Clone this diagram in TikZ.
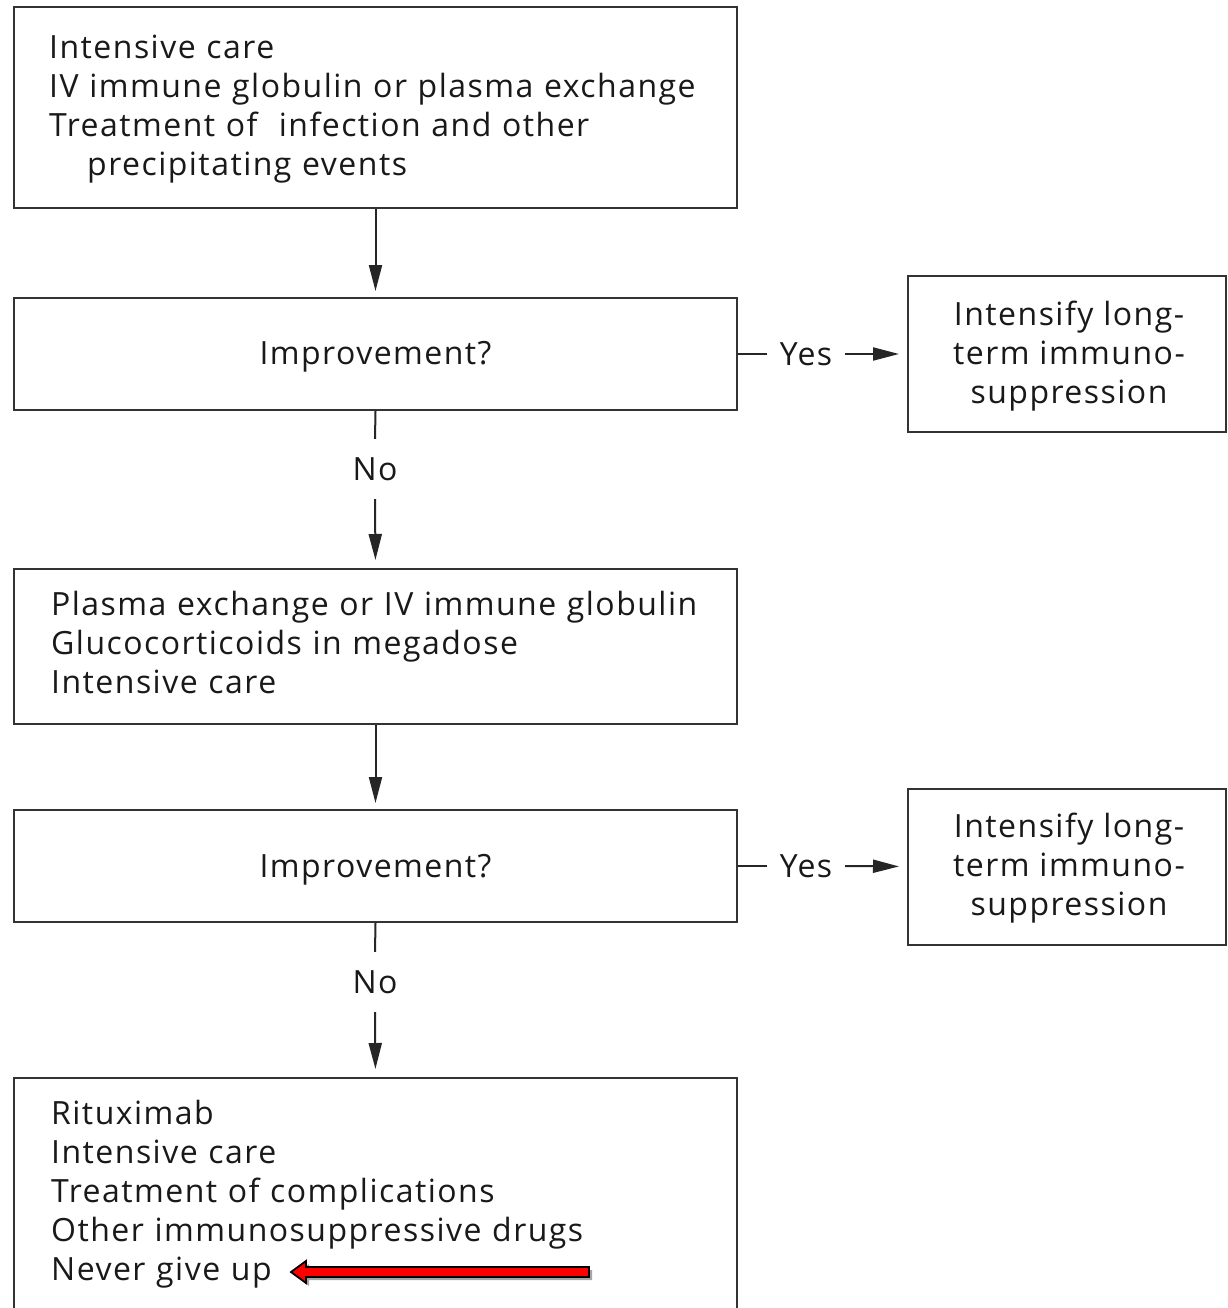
\documentclass[tikz,border=0pt]{standalone}
\usepackage{fontspec}
\setmainfont{Open Sans}[LetterSpace=4.6]
\usetikzlibrary{arrows.meta,shadows}
\begin{document}
\begin{tikzpicture}[x=1pt,y=-1pt,
  fnt/.style={font=\fontsize{32}{39}\selectfont, text=black!90},
  box/.style={draw=black!80, line width=2pt, inner sep=0pt, minimum width=723pt},
  rbox/.style={draw=black!80, line width=2pt, inner sep=0pt, minimum width=318pt, minimum height=156pt},
  ltxt/.style={fnt, anchor=north west, inner sep=0pt, align=left, text width=680pt},
  ctxt/.style={fnt, anchor=north, inner sep=0pt, align=center},
  conn/.style={draw=black!85, line width=2pt},
  arr/.style={conn, -{Triangle[length=26pt,width=13pt]}, shorten >=6pt},
  lbl/.style={fnt, inner sep=0pt}
]
\useasboundingbox (0,0) rectangle (1227,1308);
\clip (0,0) rectangle (1227,1308);
\fill[white] (0,0) rectangle (1227,1308);

% main column boxes
\node[box, minimum height=201pt] (b1) at (375.5,107.5) {};
\node[ltxt] (t1) at (49,30.7) {\strut Intensive care\\
IV immune globulin or plasma exchange\\
Treatment of\ \ infection and other\\
\hspace*{38pt}precipitating events};

\node[box, minimum height=112pt] (b2) at (375.5,354) {};
\node[lbl, anchor=base] (t2) at (375.5,364) {Improvement?};

\node[box, minimum height=155pt] (b3) at (375.5,646.5) {};
\node[ltxt] (t3) at (51,587.7) {\strut Plasma exchange or IV immune globulin\\
Glucocorticoids in megadose\\
Intensive care};

\node[box, minimum height=112pt] (b4) at (375.5,866) {};
\node[lbl, anchor=base] (t4) at (375.5,877) {Improvement?};

\node[box, minimum height=252pt] (b5) at (375.5,1204) {};
\node[ltxt] (t5) at (51,1096.7) {\strut Rituximab\\
Intensive care\\
Treatment of complications\\
Other immunosuppressive drugs\\
Never give up};

% right boxes
\node[rbox] (r1) at (1067,354) {};
\node[ctxt] (s1) at (1069,297.7) {\strut Intensify long-\\term immuno-\\suppression};
\node[rbox] (r2) at (1067,866.5) {};
\node[ctxt] (s2) at (1069,809.7) {\strut Intensify long-\\term immuno-\\suppression};

% labels
\node[lbl, minimum width=78pt] (y1) at (806,354) {Yes};
\node[lbl, minimum width=78pt] (y2) at (806,866) {Yes};
\node[lbl, minimum height=60pt] (n1) at (375,469) {No};
\node[lbl, minimum height=60pt] (n2) at (375,982) {No};

% connectors
\draw[arr] (b1.south) -- (b2.north);
\draw[conn] (b2.east) -- (y1.west);
\draw[arr, shorten >=8pt] (y1.east) -- (r1.west);
\draw[conn] (b2.south) -- (n1.north);
\draw[arr, shorten >=8pt] (n1.south) -- (b3.north);
\draw[arr] (b3.south) -- (b4.north);
\draw[conn] (b4.east) -- (y2.west);
\draw[arr, shorten >=8pt] (y2.east) -- (r2.west);
\draw[conn] (b4.south) -- (n2.north);
\draw[arr, shorten >=8pt] (n2.south) -- (b5.north);

% red pointer arrow
\filldraw[fill=red, draw=black, line width=1.8pt, line join=miter,
  drop shadow={shadow xshift=3pt, shadow yshift=-3pt, fill=black, opacity=0.35}]
  (291,1272) -- (306,1261) -- (306,1267) -- (589,1267) -- (589,1277)
  -- (306,1277) -- (306,1283) -- cycle;
\end{tikzpicture}
\end{document}
